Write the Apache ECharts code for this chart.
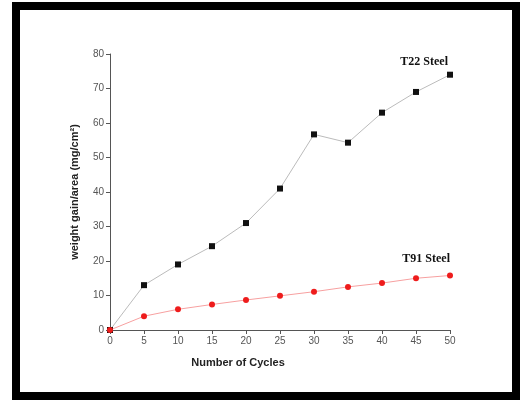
<!DOCTYPE html>
<html><head><meta charset="utf-8">
<script src="https://cdn.jsdelivr.net/npm/echarts@6/dist/echarts.min.js"></script>
<style>html,body{margin:0;padding:0;background:#fff}#c{width:523px;height:404px}</style>
</head><body><div id="c"></div>
<script>
var cycles = [0, 5, 10, 15, 20, 25, 30, 35, 40, 45, 50];
var t22 = [0, 13, 19, 24.3, 31, 41, 56.7, 54.3, 63, 69, 74];
var t91 = [0, 4, 6, 7.4, 8.7, 9.9, 11.1, 12.5, 13.6, 15, 15.8];
var yTicks = [0, 10, 20, 30, 40, 50, 60, 70, 80];

function pairs(xs, ys){ return xs.map(function(x,i){ return [x, ys[i]]; }); }

var chart = echarts.init(document.getElementById('c'));
var axisCol = '#555';
chart.setOption({
  animation: false,
  backgroundColor: '#fff',
  grid: { left: 110, right: 73, top: 54, bottom: 74 },
  xAxis: {
    type: 'value', min: 0, max: 50, interval: 5,
    axisLine: { show: true, lineStyle: { color: axisCol, width: 1 } },
    axisTick: { show: true, inside: false, length: 4, lineStyle: { color: axisCol } },
    axisLabel: { color: '#555', fontSize: 10, fontFamily: 'Liberation Sans', margin: 6 },
    splitLine: { show: false }
  },
  yAxis: {
    type: 'value', min: 0, max: 80, interval: 10,
    name: 'weight gain/area (mg/cm²)', nameLocation: 'middle', nameGap: 30,
    nameTextStyle: { color: '#222', fontSize: 11, fontWeight: 'bold', fontFamily: 'Liberation Sans' },
    axisLine: { show: true, lineStyle: { color: axisCol, width: 1 } },
    axisTick: { show: true, inside: false, length: 4, lineStyle: { color: axisCol } },
    axisLabel: { color: '#555', fontSize: 10, fontFamily: 'Liberation Sans', margin: 6 },
    splitLine: { show: false }
  },
  series: [
    { type: 'line', name: 'T22 Steel', data: pairs(cycles, t22),
      symbol: 'rect', symbolSize: 6, showSymbol: true,
      lineStyle: { color: '#bbb', width: 1 }, itemStyle: { color: '#111' } },
    { type: 'line', name: 'T91 Steel', data: pairs(cycles, t91),
      symbol: 'circle', symbolSize: 6, showSymbol: true,
      lineStyle: { color: '#f7a0a0', width: 1 }, itemStyle: { color: '#ee1c1c' } }
  ],
  graphic: [
    { type: 'rect', shape: { x: 16, y: 6, width: 500, height: 390 },
      style: { fill: 'none', stroke: '#000', lineWidth: 8 }, silent: true },
    { type: 'text', x: 238, y: 363, style: { text: 'Number of Cycles', fill: '#222', font: 'bold 11px "Liberation Sans"', textAlign: 'center', textVerticalAlign: 'middle' } },
    { type: 'text', x: 448, y: 62, style: { text: 'T22 Steel', fill: '#111', font: 'bold 12px "Liberation Serif"', textAlign: 'right', textVerticalAlign: 'middle' } },
    { type: 'text', x: 450, y: 259, style: { text: 'T91 Steel', fill: '#111', font: 'bold 12px "Liberation Serif"', textAlign: 'right', textVerticalAlign: 'middle' } }
  ]
});
</script></body></html>
